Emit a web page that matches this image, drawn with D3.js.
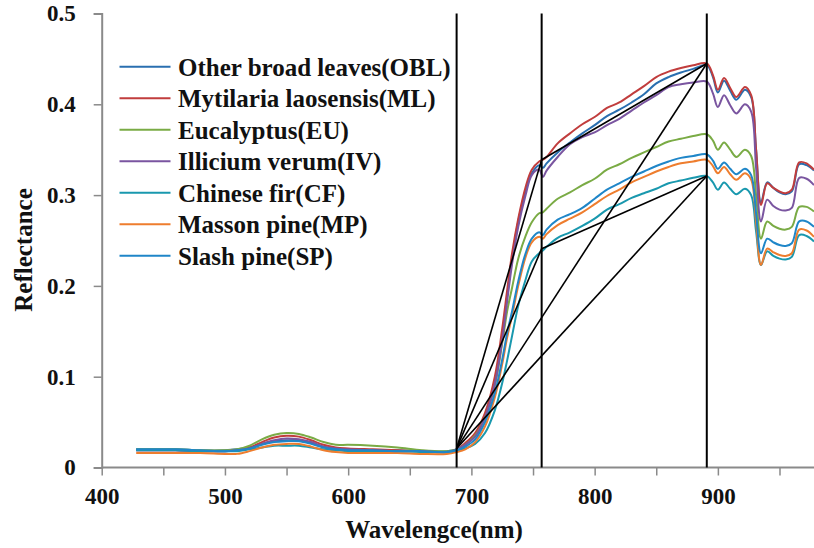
<!DOCTYPE html>
<html>
<head>
<meta charset="utf-8">
<script src="https://cdn.jsdelivr.net/npm/d3@7/dist/d3.min.js"></script>
<style>
  html, body { margin: 0; padding: 0; background: #fff; }
  svg { display: block; }
  text { font-family: 'Liberation Serif', 'Times New Roman', serif; font-weight: bold; fill: #111; }
</style>
</head>
<body>
<div id="chart"></div>
<script>
// wavelengths (nm) shared by all series
const wavelengths = [428,440,460,480,500,510,520,530,540,550,560,570,580,590,600,620,640,660,680,688,
  695,703,711,719,725,729,733,738,744,749,755,758,761,770,780,790,800,810,820,830,840,850,860,870,880,
  891,896,900,905,910,915,922,927,931,935,940,945,950,955,960,966,972,978];

const OBL = [0.020,0.020,0.020,0.019,0.019,0.020,0.022,0.026,0.029,0.030,0.030,0.027,0.023,0.021,0.020,0.019,0.019,0.018,0.018,
  0.020,0.025,0.035,0.057,0.096,0.145,0.189,0.230,0.271,0.305,0.324,0.333,0.330,0.335,0.347,0.358,0.368,0.377,0.387,0.394,0.402,
  0.411,0.423,0.430,0.435,0.439,0.443,0.430,0.413,0.426,0.415,0.405,0.416,0.408,0.350,0.292,0.314,0.308,0.303,0.301,0.304,
  0.334,0.333,0.327];
const ML = [0.019,0.019,0.019,0.018,0.018,0.019,0.022,0.028,0.033,0.035,0.034,0.030,0.025,0.022,0.021,0.020,0.019,0.018,0.017,
  0.020,0.027,0.038,0.060,0.100,0.153,0.195,0.236,0.274,0.309,0.328,0.337,0.339,0.342,0.357,0.368,0.378,0.386,0.396,0.402,0.411,
  0.420,0.430,0.436,0.440,0.443,0.445,0.432,0.416,0.429,0.418,0.408,0.419,0.410,0.350,0.289,0.313,0.308,0.304,0.302,0.306,
  0.336,0.335,0.328];
const EU = [0.020,0.020,0.020,0.019,0.019,0.020,0.024,0.031,0.036,0.038,0.037,0.033,0.028,0.025,0.025,0.024,0.022,0.019,0.018,
  0.020,0.025,0.035,0.055,0.090,0.137,0.172,0.198,0.230,0.255,0.270,0.280,0.281,0.285,0.296,0.303,0.311,0.318,0.328,0.334,0.341,
  0.347,0.353,0.359,0.362,0.365,0.367,0.360,0.350,0.358,0.350,0.342,0.350,0.343,0.300,0.252,0.271,0.266,0.263,0.262,0.265,
  0.287,0.287,0.282];
const IV = [0.019,0.019,0.019,0.018,0.018,0.019,0.021,0.026,0.030,0.032,0.031,0.028,0.023,0.021,0.020,0.019,0.018,0.018,0.017,
  0.020,0.025,0.034,0.055,0.092,0.140,0.183,0.224,0.265,0.300,0.322,0.328,0.320,0.327,0.342,0.356,0.364,0.369,0.377,0.384,0.393,
  0.402,0.410,0.419,0.422,0.424,0.425,0.412,0.397,0.410,0.399,0.390,0.400,0.392,0.330,0.271,0.295,0.288,0.284,0.283,0.286,
  0.319,0.318,0.311];
const CF = [0.019,0.019,0.019,0.018,0.018,0.018,0.020,0.022,0.024,0.024,0.024,0.022,0.020,0.019,0.018,0.018,0.018,0.017,0.017,
  0.019,0.021,0.026,0.038,0.063,0.093,0.118,0.145,0.178,0.207,0.227,0.236,0.239,0.243,0.253,0.259,0.266,0.274,0.284,0.290,0.297,
  0.302,0.307,0.313,0.316,0.319,0.321,0.314,0.306,0.314,0.307,0.301,0.307,0.300,0.260,0.223,0.238,0.233,0.230,0.229,0.232,
  0.256,0.255,0.249];
const MP = [0.016,0.016,0.016,0.016,0.015,0.015,0.018,0.022,0.025,0.026,0.026,0.023,0.019,0.017,0.016,0.016,0.016,0.015,0.015,
  0.017,0.020,0.028,0.045,0.077,0.114,0.143,0.167,0.200,0.232,0.248,0.254,0.252,0.257,0.267,0.274,0.281,0.290,0.299,0.306,0.314,
  0.320,0.326,0.331,0.335,0.337,0.339,0.332,0.324,0.331,0.323,0.317,0.324,0.317,0.270,0.223,0.241,0.237,0.234,0.233,0.236,
  0.262,0.261,0.254];
const SP = [0.020,0.020,0.020,0.019,0.018,0.019,0.021,0.025,0.028,0.029,0.029,0.026,0.022,0.020,0.019,0.019,0.018,0.018,0.017,
  0.019,0.023,0.031,0.050,0.082,0.119,0.148,0.172,0.205,0.236,0.252,0.259,0.256,0.262,0.273,0.279,0.286,0.296,0.306,0.313,0.320,
  0.326,0.332,0.337,0.341,0.343,0.345,0.338,0.329,0.336,0.329,0.323,0.329,0.322,0.280,0.236,0.252,0.248,0.245,0.244,0.247,
  0.271,0.271,0.265];

const seriesNames = ['Other broad leaves(OBL)', 'Mytilaria laosensis(ML)', 'Eucalyptus(EU)', 'Illicium verum(IV)',
  'Chinese fir(CF)', 'Masson pine(MP)', 'Slash pine(SP)'];
const seriesValues = [OBL, ML, EU, IV, CF, MP, SP];
const seriesColors = ['#2a6fb0', '#c13d3d', '#7aab45', '#7a55a0', '#1998ae', '#ee7d2e', '#1f86c8'];

// red-edge marker wavelengths and the triangle segments between them
const markerWavelengths = [688, 757, 891];
const edgeSegments = [
  [[688, 0.021], [757, 0.339]],
  [[688, 0.021], [757, 0.241]],
  [[688, 0.021], [891, 0.445]],
  [[688, 0.021], [891, 0.321]],
  [[757, 0.339], [891, 0.445]],
  [[757, 0.241], [891, 0.321]],
];

const xTicks = [400, 450, 500, 550, 600, 650, 700, 750, 800, 850, 900, 950];
const yTicks = [0, 0.1, 0.2, 0.3, 0.4, 0.5];

const W = 814, H = 548;
const svg = d3.select('#chart').append('svg').attr('width', W).attr('height', H);

const x = d3.scaleLinear().domain([400, 978]).range([101.7, 814]);
const y = d3.scaleLinear().domain([0, 0.5]).range([467.5, 13.5]);

// axes
const axisColor = '#8a8a8a';
const xAxis = svg.append('g').attr('transform', `translate(0,${y(0)})`)
  .call(d3.axisBottom(x).tickValues(xTicks).tickSize(8).tickPadding(12)
    .tickFormat(d => d % 100 === 0 ? d : ''));
const yAxis = svg.append('g').attr('transform', `translate(${x(400)},0)`)
  .call(d3.axisLeft(y).tickValues(yTicks).tickSize(8).tickPadding(18)
    .tickFormat(d => d === 0 ? '0' : d.toFixed(1)));
[xAxis, yAxis].forEach(a => {
  a.select('.domain').attr('stroke', axisColor).attr('stroke-width', 2);
  a.selectAll('.tick line').attr('stroke', axisColor).attr('stroke-width', 1.5);
  a.selectAll('.tick text').style('font-family', "'Liberation Serif', serif")
    .style('font-weight', 'bold').style('font-size', '23px').attr('fill', '#111');
});
xAxis.select('.domain').attr('d', `M${x(400)},0H${W}`);

svg.append('text').attr('x', 434).attr('y', 529).attr('dy', '0.35em')
  .attr('text-anchor', 'middle').style('font-size', '25px').text('Wavelengce(nm)');
svg.append('text').attr('transform', 'translate(23,250) rotate(-90)').attr('dy', '0.35em')
  .attr('text-anchor', 'middle').style('font-size', '25px').text('Reflectance');

// spectra
const line = d3.line()
  .x((d, i) => x(wavelengths[i]))
  .y(d => y(d))
  .curve(d3.curveCatmullRom.alpha(0.5));

svg.append('g').selectAll('path')
  .data(seriesValues)
  .join('path')
  .attr('d', d => line(d))
  .attr('fill', 'none')
  .attr('stroke', (d, i) => seriesColors[i])
  .attr('stroke-width', 2);

// vertical marker lines
svg.append('g').selectAll('line')
  .data(markerWavelengths)
  .join('line')
  .attr('x1', d => x(d)).attr('x2', d => x(d))
  .attr('y1', y(0.5)).attr('y2', y(0))
  .attr('stroke', '#000').attr('stroke-width', 2);

// triangle segments
svg.append('g').selectAll('line')
  .data(edgeSegments)
  .join('line')
  .attr('x1', d => x(d[0][0])).attr('y1', d => y(d[0][1]))
  .attr('x2', d => x(d[1][0])).attr('y2', d => y(d[1][1]))
  .attr('stroke', '#000').attr('stroke-width', 1.6);

// legend
const legend = svg.append('g').attr('transform', 'translate(119.5,66.8)');
const rows = legend.selectAll('g')
  .data(seriesNames)
  .join('g')
  .attr('transform', (d, i) => `translate(0,${i * 31.5})`);
rows.append('line').attr('x1', 0).attr('x2', 51)
  .attr('stroke', (d, i) => seriesColors[i]).attr('stroke-width', 2);
rows.append('text').attr('x', 58.5).attr('dy', '0.35em')
  .style('font-size', '25px').text(d => d);
</script>
</body>
</html>
